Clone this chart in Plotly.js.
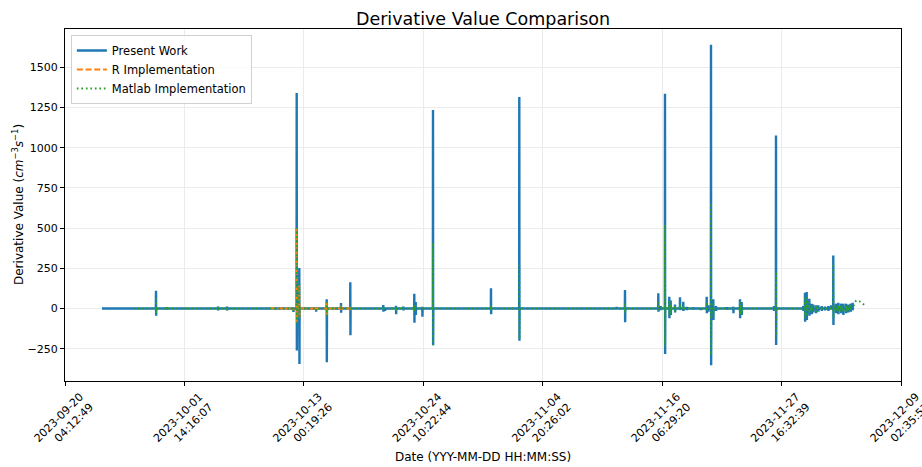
<!DOCTYPE html>
<html>
<head>
<meta charset="utf-8">
<script src="https://cdn.plot.ly/plotly-3.0.1.min.js"></script>
<style>
  html, body { margin: 0; padding: 0; background: #ffffff; }
  #chart { width: 922px; height: 467px; }
</style>
</head>
<body>
<div id="chart"></div>
<script>
// ---------------- Data ----------------
const xTickVals = ["2023-09-20 04:12:49", "2023-10-01 14:16:07", "2023-10-13 00:19:26", "2023-10-24 10:22:44",
                   "2023-11-04 20:26:02", "2023-11-16 06:29:20", "2023-11-27 16:32:39", "2023-12-09 02:35:57"];
const yTickVals = [-250, 0, 250, 500, 750, 1000, 1250, 1500];

// Present Work: baseline ~0 with spike events (time, peak high, peak low)
const pwStart = "2023-09-23 17:07";
const pwEnd = "2023-12-04 14:44";
const pwTime = ["2023-09-24 13:46", "2023-09-25 01:14", "2023-09-28 21:02", "2023-09-29 21:07", "2023-10-01 22:28",
  "2023-10-04 19:18", "2023-10-05 15:57", "2023-10-12 00:06", "2023-10-12 07:54", "2023-10-12 13:52",
  "2023-10-14 04:11", "2023-10-15 04:44", "2023-10-16 13:33", "2023-10-17 10:54", "2023-10-19 08:06",
  "2023-10-20 14:36", "2023-10-20 18:30", "2023-10-21 19:46", "2023-10-22 12:30", "2023-10-23 13:45",
  "2023-10-23 16:58", "2023-10-24 08:06", "2023-10-25 08:40", "2023-10-30 21:45", "2023-11-02 14:42",
  "2023-11-11 22:12", "2023-11-12 17:15", "2023-11-15 21:40", "2023-11-16 03:10", "2023-11-16 13:02",
  "2023-11-16 22:54", "2023-11-17 02:06", "2023-11-17 11:59", "2023-11-17 23:28", "2023-11-18 07:00",
  "2023-11-18 14:48", "2023-11-19 05:58", "2023-11-19 22:57", "2023-11-20 12:43", "2023-11-20 16:24",
  "2023-11-20 22:36", "2023-11-21 03:52", "2023-11-21 10:04", "2023-11-22 10:36", "2023-11-23 01:46",
  "2023-11-23 17:08", "2023-11-23 21:00", "2023-11-26 23:10", "2023-11-27 03:45", "2023-11-29 18:24",
  "2023-11-29 22:17", "2023-11-30 02:12", "2023-11-30 08:10", "2023-11-30 13:40", "2023-11-30 17:20",
  "2023-11-30 23:32", "2023-12-01 04:48", "2023-12-01 12:36", "2023-12-01 20:11", "2023-12-02 03:46",
  "2023-12-02 09:58", "2023-12-02 15:14", "2023-12-02 21:25", "2023-12-03 02:42", "2023-12-03 08:54",
  "2023-12-03 14:10", "2023-12-03 20:22", "2023-12-04 01:39", "2023-12-04 07:10", "2023-12-04 11:45"];
const pwHigh = [5, 4, 110, 8, 6, 12, 12, 8, 1340, 251,
  5, 57, 34, 163, 5, 22, 5, 17, 12, 92,
  40, 10, 1235, 125, 1315, 10, 115, 94, 15, 1335,
  73, 50, 25, 70, 42, 10, 8, 5, 73, 20,
  1640, 57, 15, 8, 11, 57, 40, 15, 1075, 15,
  98, 102, 60, 30, 25, 20, 20, 15, 12, 15,
  20, 330, 30, 35, 30, 30, 30, 25, 30, 36];
const pwLow = [-4, -5, -45, -8, -6, -12, -12, -22, -262, -345,
  -20, -335, -26, -167, -5, -20, -15, -36, -12, -88,
  -40, -51, -229, -36, -200, -4, -86, -20, -10, -283,
  -61, -40, -25, -10, -15, -10, -8, -10, -30, -20,
  -353, -72, -15, -8, -30, -61, -40, -15, -227, -15,
  -82, -72, -45, -35, -25, -30, -20, -15, -12, -15,
  -5, -102, -30, -35, -30, -40, -30, -25, -20, -10];

// R Implementation (only visible over a short window)
const rStart = "2023-10-09 18:38";
const rEnd = "2023-10-17 14:48";
const rTime = ["2023-10-10 03:48", "2023-10-11 00:28", "2023-10-12 00:06", "2023-10-12 07:54", "2023-10-12 13:52",
  "2023-10-14 04:11", "2023-10-15 04:44", "2023-10-16 13:33", "2023-10-17 10:54"];
const rHigh = [3, 3, 5, 500, 150, 3, 40, 20, 15];
const rLow = [-3, -3, -15, -90, -60, -10, -51, -10, -10];

// Matlab Implementation
const mlStart = "2023-09-26 16:15";
const mlTime = ["2023-09-28 21:02", "2023-09-29 21:07", "2023-10-01 22:28", "2023-10-04 19:18", "2023-10-05 15:57",
  "2023-10-12 00:06", "2023-10-12 07:54", "2023-10-12 13:52", "2023-10-14 04:11", "2023-10-15 04:44",
  "2023-10-16 13:33", "2023-10-17 10:54", "2023-10-20 14:36", "2023-10-21 19:46", "2023-10-22 12:30",
  "2023-10-23 13:45", "2023-10-24 08:06", "2023-10-25 08:40", "2023-10-30 21:45", "2023-11-02 14:42",
  "2023-11-11 22:12", "2023-11-12 17:15", "2023-11-15 21:40", "2023-11-16 13:02", "2023-11-16 22:54",
  "2023-11-17 02:06", "2023-11-17 11:59", "2023-11-17 23:28", "2023-11-18 07:00", "2023-11-20 12:43",
  "2023-11-20 22:36", "2023-11-21 03:52", "2023-11-23 17:08", "2023-11-23 21:00", "2023-11-27 03:45",
  "2023-11-29 22:17", "2023-11-30 02:12", "2023-11-30 08:10", "2023-11-30 13:40", "2023-11-30 23:32",
  "2023-12-01 12:36", "2023-12-02 15:14", "2023-12-02 21:25", "2023-12-03 02:42", "2023-12-03 08:54",
  "2023-12-03 14:10", "2023-12-03 20:22", "2023-12-04 01:39", "2023-12-04 07:10"];
const mlHigh = [60, 8, 5, 10, 10, 5, 500, 150, 3, 40,
  20, 15, 15, 12, 10, 30, 5, 409, 20, 270,
  5, 30, 40, 519, 50, 30, 20, 30, 20, 40,
  656, 40, 40, 30, 229, 60, 70, 40, 20, 20,
  15, 280, 20, 20, 20, 20, 20, 20, 20];
const mlLow = [-30, -8, -5, -10, -10, -15, -90, -60, -10, -45,
  -10, -10, -15, -20, -10, -20, -5, -228, -10, -190,
  -3, -30, -10, -237, -45, -30, -20, -5, -10, -20,
  -290, -50, -40, -30, -180, -60, -50, -30, -20, -20,
  -15, -60, -20, -20, -20, -25, -20, -20, -15];
const mlTailTime = ["2023-12-04 14:44", "2023-12-04 19:19", "2023-12-05 02:54", "2023-12-05 10:42", "2023-12-05 15:58"];
const mlTailValue = [20, 48, 45, 28, 20];

// ---------------- Build series ----------------
function shiftMin(s, m) {
  const d = new Date(s.replace(" ", "T") + ":00Z");
  d.setUTCMinutes(d.getUTCMinutes() + m);
  return d.toISOString().slice(0, 19).replace("T", " ");
}
function buildSeries(start, times, highs, lows) {
  const x = [start], y = [0];
  for (let i = 0; i < times.length; i++) {
    x.push(shiftMin(times[i], -20), times[i], shiftMin(times[i], 20), shiftMin(times[i], 40));
    y.push(0, highs[i], lows[i], 0);
  }
  return { x, y };
}
const pw = buildSeries(pwStart, pwTime, pwHigh, pwLow);
pw.x.push(pwEnd); pw.y.push(0);
const rr = buildSeries(rStart, rTime, rHigh, rLow);
rr.x.push(rEnd); rr.y.push(0);
const ml = buildSeries(mlStart, mlTime, mlHigh, mlLow);
mlTailTime.forEach((t, i) => { ml.x.push(t); ml.y.push(mlTailValue[i]); });

const traces = [
  { x: pw.x, y: pw.y, type: "scatter", mode: "lines", name: "Present Work",
    line: { color: "#1f77b4", width: 2.4 } },
  { x: rr.x, y: rr.y, type: "scatter", mode: "lines", name: "R Implementation",
    line: { color: "#ff7f0e", width: 1.8, dash: "6px,2.7px" } },
  { x: ml.x, y: ml.y, type: "scatter", mode: "lines", name: "Matlab Implementation",
    line: { color: "#2ca02c", width: 1.8, dash: "1.7px,2.8px" } }
];

const FONT = "DejaVu Sans, sans-serif";
const layout = {
  width: 922, height: 467,
  margin: { l: 65, r: 21, t: 29, b: 86 },
  paper_bgcolor: "#ffffff", plot_bgcolor: "#ffffff",
  font: { family: FONT, size: 11, color: "#000000" },
  title: { text: "Derivative Value Comparison", font: { family: FONT, size: 17.5, color: "#000" },
           xref: "paper", x: 0.5, xanchor: "center", yref: "container", y: 1 - 19 / 467, yanchor: "middle" },
  showlegend: true,
  legend: { x: 0.007, y: 0.983, xanchor: "left", yanchor: "top",
            bgcolor: "rgba(255,255,255,0.8)", bordercolor: "#d0d0d0", borderwidth: 1,
            font: { family: FONT, size: 11.5 }, itemwidth: 30, tracegroupgap: 0 },
  xaxis: {
    type: "date",
    range: [xTickVals[0], xTickVals[xTickVals.length - 1]],
    tickmode: "array", tickvals: xTickVals, ticktext: xTickVals.map(v => v.replace(" ", "<br>")),
    tickangle: -45, ticks: "outside", ticklen: 4, tickwidth: 1, tickcolor: "#000",
    ticklabelshift: 15, ticklabeloverflow: "allow",
    showgrid: true, gridcolor: "#ebebeb", gridwidth: 1,
    showline: true, linecolor: "#000", linewidth: 1, mirror: true,
    zeroline: false, tickfont: { family: FONT, size: 11 }
  },
  yaxis: {
    range: [-451, 1738],
    tickmode: "array", tickvals: yTickVals,
    ticks: "outside", ticklen: 4, tickwidth: 1, tickcolor: "#000",
    showgrid: true, gridcolor: "#ebebeb", gridwidth: 1,
    showline: true, linecolor: "#000", linewidth: 1, mirror: true,
    zeroline: false, tickfont: { family: FONT, size: 11 }
  },
  annotations: [
    { text: "Date (YYY-MM-DD HH:MM:SS)", xref: "paper", yref: "paper", x: 0.5, y: (381 - 457) / 352,
      xanchor: "center", yanchor: "middle", showarrow: false, font: { family: FONT, size: 12 } },
    { text: "Derivative Value (<i>cm</i><sup>−3</sup><i>s</i><sup>−1</sup>)", xref: "paper", yref: "paper",
      x: (18 - 65) / 836, y: 0.5, xanchor: "center", yanchor: "middle", textangle: -90,
      showarrow: false, font: { family: FONT, size: 12 } }
  ]
};

Plotly.newPlot("chart", traces, layout, { staticPlot: true, displayModeBar: false });
</script>
</body>
</html>
